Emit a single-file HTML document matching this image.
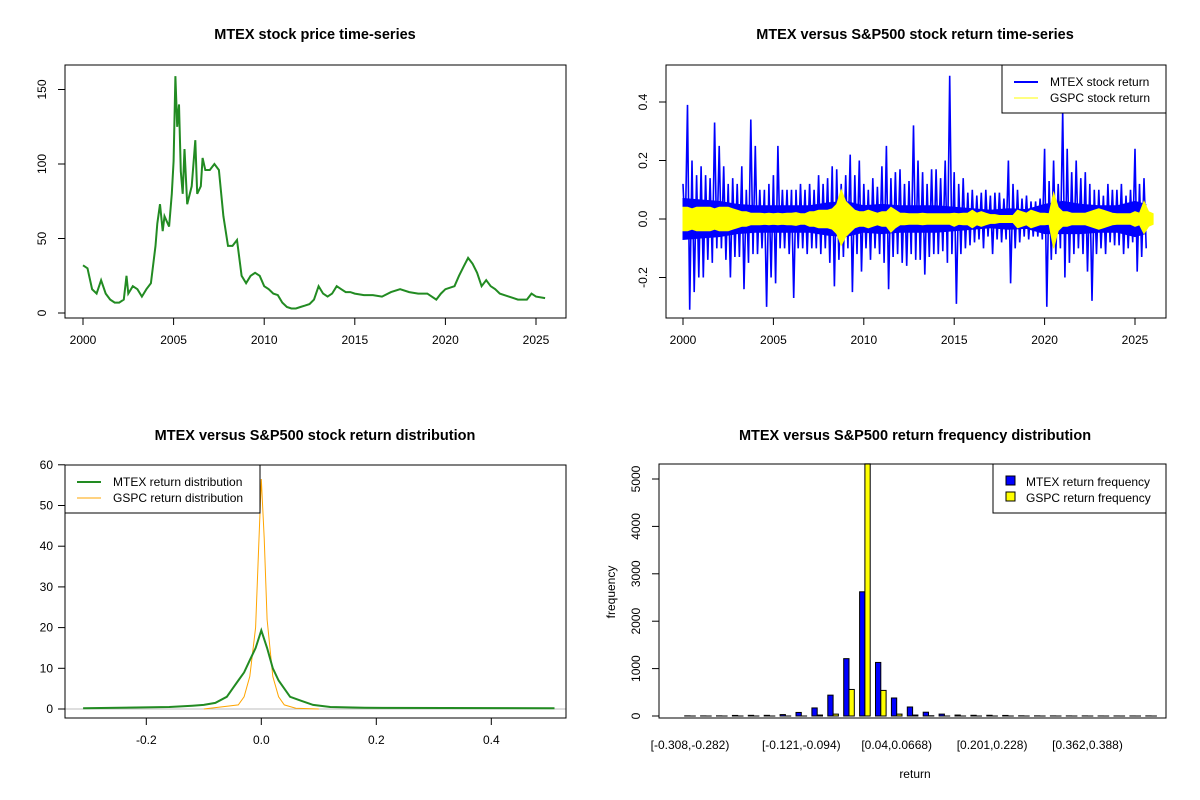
<!DOCTYPE html>
<html><head><meta charset="utf-8"><style>
html,body{margin:0;padding:0;background:#fff}
svg{display:block;font-family:"Liberation Sans",Arial,sans-serif}
.t{font-size:14.5px;font-weight:bold;text-anchor:middle}
.k{font-size:12px}
</style></head><body>
<svg id="s" width="1200" height="800" viewBox="0 0 1200 800">
<rect width="1200" height="800" fill="#fff"/>
<text class="t" x="315" y="39">MTEX stock price time-series</text>
<text class="t" x="915" y="39">MTEX versus S&amp;P500 stock return time-series</text>
<text class="t" x="315" y="440">MTEX versus S&amp;P500 stock return distribution</text>
<text class="t" x="915" y="440">MTEX versus S&amp;P500 return frequency distribution</text>
<g id="p1"></g>
<g id="p2"></g>
<g id="p3"></g>
<g id="p4"></g>
</svg>
<script>
// ---- price data ----
const priceYears=[2000,2000.25,2000.5,2000.75,2001,2001.25,2001.5,2001.75,2002,2002.25,2002.4,2002.5,2002.75,2003,2003.25,2003.5,2003.75,2004,2004.1,2004.25,2004.4,2004.5,2004.75,2004.9,2005,2005.1,2005.2,2005.3,2005.4,2005.5,2005.6,2005.75,2006,2006.2,2006.3,2006.5,2006.6,2006.75,2007,2007.25,2007.5,2007.75,2008,2008.25,2008.5,2008.75,2009,2009.25,2009.5,2009.75,2010,2010.25,2010.5,2010.75,2011,2011.25,2011.5,2011.75,2012,2012.25,2012.5,2012.75,2013,2013.25,2013.5,2013.75,2014,2014.25,2014.5,2014.75,2015,2015.5,2016,2016.5,2017,2017.5,2018,2018.5,2019,2019.5,2019.75,2020,2020.5,2020.75,2021,2021.25,2021.5,2021.75,2022,2022.25,2022.5,2022.75,2023,2023.5,2023.75,2024,2024.5,2024.75,2025,2025.5];
const priceValues=[32,30,16,13,22,13,9,7,7,9,25,13,18,16,11,16,20,45,60,73,55,65,58,80,102,159,125,140,95,80,110,73,85,116,80,85,104,96,96,100,96,65,45,45,49,25,20,25,27,25,18,16,13,12,7,4,3,3,4,5,6,9,18,13,11,13,18,16,14,14,13,12,12,11,14,16,14,13,13,9,13,16,18,25,31,37,33,27,18,22,18,16,13,11,10,9,9,13,11,10];
const priceYTicks=[0,50,100,150];
const yearTicks=[2000,2005,2010,2015,2020,2025];
// ---- return data (quarterly envelopes from 2000.0) ----
const retStart=2000;
const mtexHi=[.12,.39,.20,.15,.18,.15,.14,.33,.25,.18,.12,.14,.12,.18,.10,.34,.25,.10,.10,.12,.15,.25,.10,.10,.10,.10,.12,.10,.12,.10,.15,.12,.14,.18,.17,.12,.15,.22,.15,.20,.12,.10,.14,.11,.18,.25,.14,.16,.17,.12,.13,.32,.20,.16,.12,.17,.17,.14,.20,.49,.16,.12,.14,.09,.10,.08,.09,.10,.08,.09,.09,.07,.20,.12,.10,.07,.08,.06,.06,.07,.24,.13,.20,.12,.37,.24,.16,.20,.14,.16,.12,.10,.10,.08,.12,.10,.10,.12,.08,.10,.24,.12,.14];
const mtexLo=[-.06,-.31,-.25,-.20,-.20,-.14,-.15,-.10,-.10,-.14,-.20,-.13,-.13,-.24,-.15,-.12,-.12,-.10,-.30,-.20,-.22,-.10,-.10,-.12,-.27,-.10,-.10,-.12,-.10,-.10,-.12,-.10,-.15,-.23,-.14,-.13,-.10,-.25,-.12,-.18,-.10,-.14,-.10,-.12,-.15,-.24,-.13,-.12,-.15,-.16,-.12,-.14,-.14,-.19,-.13,-.12,-.12,-.11,-.15,-.12,-.29,-.12,-.10,-.09,-.08,-.07,-.10,-.06,-.12,-.07,-.08,-.07,-.22,-.10,-.08,-.06,-.07,-.06,-.06,-.07,-.30,-.14,-.12,-.10,-.20,-.15,-.12,-.10,-.12,-.18,-.28,-.12,-.10,-.12,-.08,-.09,-.09,-.12,-.10,-.08,-.18,-.13,-.10];
// typical (dense) MTEX band per year
const coreYears=[2000,2001,2002,2003,2004,2005,2006,2007,2008,2009,2010,2011,2012,2013,2014,2015,2016,2017,2018,2019,2020,2021,2022,2023,2024,2025,2025.6];
const coreHi=[.07,.065,.06,.05,.045,.045,.045,.045,.055,.06,.045,.05,.045,.045,.045,.04,.035,.03,.035,.032,.05,.06,.05,.045,.045,.06,.05];
const coreLo=[-.07,-.065,-.06,-.05,-.045,-.045,-.045,-.045,-.055,-.06,-.045,-.05,-.045,-.045,-.045,-.04,-.035,-.03,-.035,-.032,-.05,-.05,-.05,-.045,-.045,-.06,-.05];
const gspcHi=[.04,.04,.035,.04,.04,.04,.04,.035,.04,.04,.04,.035,.03,.025,.025,.02,.02,.02,.018,.02,.018,.02,.018,.02,.02,.022,.018,.018,.025,.025,.03,.03,.03,.035,.05,.10,.06,.045,.03,.025,.025,.03,.025,.02,.025,.025,.04,.03,.02,.02,.018,.018,.018,.02,.018,.018,.018,.018,.018,.018,.02,.018,.02,.02,.03,.02,.025,.02,.015,.015,.012,.012,.012,.012,.03,.025,.02,.03,.025,.02,.02,.018,.09,.04,.025,.025,.02,.02,.02,.02,.025,.03,.035,.03,.025,.02,.018,.018,.018,.018,.025,.02,.06,.025,.018];
const gspcLo=[-.04,-.04,-.035,-.04,-.04,-.04,-.04,-.035,-.04,-.04,-.04,-.035,-.03,-.025,-.025,-.02,-.02,-.02,-.018,-.02,-.018,-.02,-.018,-.02,-.02,-.022,-.018,-.018,-.025,-.025,-.03,-.03,-.03,-.035,-.05,-.09,-.06,-.045,-.03,-.025,-.025,-.03,-.025,-.02,-.025,-.025,-.045,-.03,-.02,-.02,-.018,-.018,-.018,-.02,-.018,-.018,-.018,-.018,-.018,-.018,-.025,-.018,-.02,-.02,-.03,-.02,-.025,-.02,-.015,-.015,-.012,-.012,-.012,-.012,-.03,-.025,-.02,-.03,-.025,-.02,-.02,-.018,-.10,-.04,-.025,-.025,-.02,-.02,-.02,-.02,-.025,-.03,-.035,-.03,-.025,-.02,-.018,-.018,-.018,-.018,-.025,-.02,-.05,-.025,-.018];
const retYTicks=[-0.2,0,0.2,0.4];
const retYLabels=["-0.2","0.0","0.2","0.4"];
// ---- density data ----
const mtexDx=[-0.31,-0.16,-0.12,-0.1,-0.08,-0.06,-0.05,-0.04,-0.03,-0.02,-0.01,0,0.01,0.02,0.03,0.04,0.05,0.07,0.09,0.12,0.18,0.51];
const mtexDy=[0.2,0.5,0.8,1,1.5,3,5,7,9,12,15,19.3,15,10,7,5,3,2,1,0.5,0.3,0.2];
const gspcDx=[-0.1,-0.04,-0.03,-0.02,-0.01,-0.005,0,0.005,0.01,0.02,0.03,0.04,0.06,0.1];
const gspcDy=[0,1,3,8,20,38,56.5,42,22,8,3,1,0.2,0];
const densXTicks=[-0.2,0,0.2,0.4];
const densXLabels=["-0.2","0.0","0.2","0.4"];
const densYTicks=[0,10,20,30,40,50,60];
// ---- histogram data ----
const mtexFreq=[3,2,3,12,14,14,30,75,170,440,1210,2620,1130,380,190,80,40,20,15,15,12,4,3,2,2,2,1,1,1,2];
const gspcFreq=[0,0,0,0,0,0,0,0,20,40,560,5400,540,40,20,5,0,0,0,0,0,0,0,0,0,0,0,0,0,0];
const histLabelGroups=[0,7,13,19,25];
const histLabels=["[-0.308,-0.282)","[-0.121,-0.094)","[0.04,0.0668)","[0.201,0.228)","[0.362,0.388)"];
const histYTicks=[0,1000,2000,3000,4000,5000];

const NS="http://www.w3.org/2000/svg";
function mk(parent,tag,attrs,text){const e=document.createElementNS(NS,tag);for(const k in attrs)e.setAttribute(k,attrs[k]);if(text!==undefined)e.textContent=text;parent.appendChild(e);return e;}

// panel 1
const p1=document.getElementById('p1');
const x1=y=>83+(y-2000)*18.12, y1=v=>313-v*1.49;
let d=priceYears.map((yr,i)=>(i?'L':'M')+x1(yr).toFixed(1)+','+y1(priceValues[i]).toFixed(1)).join('');
let e=mk(p1,'path',{d:d,fill:'none',stroke:'#228B22','stroke-width':2,'stroke-linejoin':'miter'});


e=mk(p1,'rect',{x:65,y:65,width:501,height:253,fill:'none',stroke:'#000'});


yearTicks.forEach(t=>{mk(p1,'line',{x1:x1(t),x2:x1(t),y1:318,y2:325,stroke:'#000'});
 e=mk(p1,'text',{x:x1(t),y:344,class:'k','text-anchor':'middle'},String(t));
 
 });
priceYTicks.forEach(t=>{mk(p1,'line',{x1:58,x2:65,y1:y1(t),y2:y1(t),stroke:'#000'});
 e=mk(p1,'text',{x:46,y:y1(t),class:'k','text-anchor':'middle',transform:`rotate(-90 46 ${y1(t)})`},String(t));
 
 });

// panel 2
const p2=document.getElementById('p2');
const x2=y=>683+(y-2000)*18.08, y2=v=>219-v*292.5;
function band(xs,hi,lo,col,name){let s='';xs.forEach((yr,i)=>{s+=(i?'L':'M')+x2(yr).toFixed(1)+','+y2(hi[i]).toFixed(1);});
 for(let i=xs.length-1;i>=0;i--)s+='L'+x2(xs[i]).toFixed(1)+','+y2(lo[i]).toFixed(1);
 const el=mk(p2,'path',{d:s+'Z',fill:col,stroke:col,'stroke-width':1});
 
 }
function env(hi,lo,col,w,name){let s='';hi.forEach((h,i)=>{const x=x2(retStart+i*0.25);s+=(i?'L':'M')+x.toFixed(1)+','+y2(h).toFixed(1)+'L'+(x+2.2).toFixed(1)+','+y2(lo[i]).toFixed(1);});
 const el=mk(p2,'path',{d:s,fill:'none',stroke:col,'stroke-width':w});
 
 }
band(coreYears,coreHi,coreLo,'#0000ff','mtex-return-core-band');
env(mtexHi,mtexLo,'#0000ff',1.6,'mtex-return-series');
const qYears=gspcHi.map((_,i)=>retStart+i*0.25);
band(qYears,gspcHi,gspcLo,'#ffff00','gspc-return-series');
e=mk(p2,'rect',{x:666,y:65,width:500,height:253,fill:'none',stroke:'#000'});


yearTicks.forEach(t=>{mk(p2,'line',{x1:x2(t),x2:x2(t),y1:318,y2:325,stroke:'#000'});
 e=mk(p2,'text',{x:x2(t),y:344,class:'k','text-anchor':'middle'},String(t));
 
 });
retYTicks.forEach((t,i)=>{mk(p2,'line',{x1:659,x2:666,y1:y2(t),y2:y2(t),stroke:'#000'});
 e=mk(p2,'text',{x:647,y:y2(t),class:'k','text-anchor':'middle',transform:`rotate(-90 647 ${y2(t)})`},retYLabels[i]);
 
 });
{const g=mk(p2,'g',{});
 mk(g,'rect',{x:1002,y:65,width:164,height:48,fill:'#fff',stroke:'#000'});
 mk(g,'line',{x1:1014,x2:1038,y1:82,y2:82,stroke:'#0000ff','stroke-width':2});
 mk(g,'line',{x1:1014,x2:1038,y1:98,y2:98,stroke:'#ffff00','stroke-width':1});
 mk(g,'text',{x:1050,y:86,class:'k'},'MTEX stock return');
 mk(g,'text',{x:1050,y:102,class:'k'},'GSPC stock return');}

// panel 3
const p3=document.getElementById('p3');
const x3=v=>261.3+v*575, y3=v=>709-v*4.07;
mk(p3,'line',{x1:65,x2:566,y1:y3(0),y2:y3(0),stroke:'#bebebe'});
d=gspcDx.map((v,i)=>(i?'L':'M')+x3(v).toFixed(1)+','+y3(gspcDy[i]).toFixed(1)).join('');
e=mk(p3,'path',{d:d,fill:'none',stroke:'#FFA500','stroke-width':1});


d=mtexDx.map((v,i)=>(i?'L':'M')+x3(v).toFixed(1)+','+y3(mtexDy[i]).toFixed(1)).join('');
e=mk(p3,'path',{d:d,fill:'none',stroke:'#228B22','stroke-width':2});


e=mk(p3,'rect',{x:65,y:465,width:501,height:253,fill:'none',stroke:'#000'});


densXTicks.forEach((t,i)=>{mk(p3,'line',{x1:x3(t),x2:x3(t),y1:718,y2:725,stroke:'#000'});
 e=mk(p3,'text',{x:x3(t),y:744,class:'k','text-anchor':'middle'},densXLabels[i]);
 
 });
densYTicks.forEach(t=>{mk(p3,'line',{x1:58,x2:65,y1:y3(t),y2:y3(t),stroke:'#000'});
 e=mk(p3,'text',{x:53,y:y3(t)+4,class:'k','text-anchor':'end'},String(t));
 
 });
{const g=mk(p3,'g',{});
 mk(g,'rect',{x:65,y:465,width:195,height:48,fill:'#fff',stroke:'#000'});
 mk(g,'line',{x1:77,x2:101,y1:482,y2:482,stroke:'#228B22','stroke-width':2});
 mk(g,'line',{x1:77,x2:101,y1:498,y2:498,stroke:'#FFA500','stroke-width':1});
 mk(g,'text',{x:113,y:486,class:'k'},'MTEX return distribution');
 mk(g,'text',{x:113,y:502,class:'k'},'GSPC return distribution');}

// panel 4
const p4=document.getElementById('p4');
const xu=u=>690+(u-2)*5.3, y4=v=>716-Math.min(v,5320)*0.0474;
mtexFreq.forEach((f,g)=>{
 const u=1+3*g;
 const b=mk(p4,'rect',{x:xu(u),y:y4(f),width:5.3,height:Math.max(716-y4(f),0.01),fill:'#0000ff',stroke:'#000','stroke-width':1});
 
 
 const c=mk(p4,'rect',{x:xu(u+1),y:y4(gspcFreq[g]),width:5.3,height:Math.max(716-y4(gspcFreq[g]),0.01),fill:'#ffff00',stroke:'#000','stroke-width':1});
 
 
});
e=mk(p4,'rect',{x:659,y:464,width:507,height:254,fill:'none',stroke:'#000'});


histLabelGroups.forEach((g,i)=>{e=mk(p4,'text',{x:xu(2+3*g),y:749,class:'k','text-anchor':'middle'},histLabels[i]);
 
 });
histYTicks.forEach(t=>{mk(p4,'line',{x1:652,x2:659,y1:y4(t),y2:y4(t),stroke:'#000'});
 e=mk(p4,'text',{x:640,y:y4(t),class:'k','text-anchor':'middle',transform:`rotate(-90 640 ${y4(t)})`},String(t));
 
 });
e=mk(p4,'text',{x:615,y:592,class:'k','text-anchor':'middle','font-size':'11px',transform:'rotate(-90 615 592)'},'frequency');


e=mk(p4,'text',{x:915,y:778,class:'k','text-anchor':'middle','font-size':'11px'},'return');


{const g=mk(p4,'g',{});
 mk(g,'rect',{x:993,y:464,width:173,height:49,fill:'#fff',stroke:'#000'});
 mk(g,'rect',{x:1006,y:476,width:9,height:9,fill:'#0000ff',stroke:'#000'});
 mk(g,'rect',{x:1006,y:492,width:9,height:9,fill:'#ffff00',stroke:'#000'});
 mk(g,'text',{x:1026,y:486,class:'k'},'MTEX return frequency');
 mk(g,'text',{x:1026,y:502,class:'k'},'GSPC return frequency');}
</script>
</body></html>
